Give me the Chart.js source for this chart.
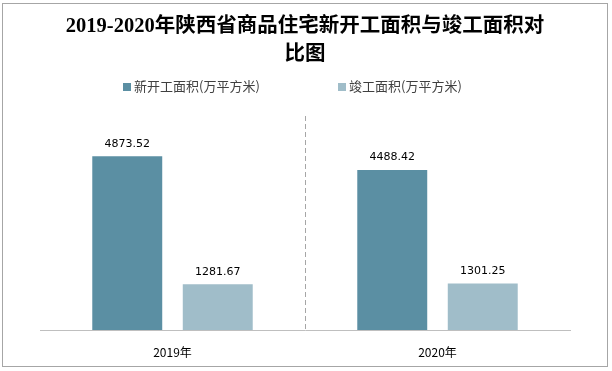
<!DOCTYPE html>
<html>
<head>
<meta charset="utf-8">
<script src="https://cdn.jsdelivr.net/npm/chart.js@4.4.0/dist/chart.umd.min.js"></script>
<style>
  html, body { margin: 0; padding: 0; background: #fff; }
  #wrap { position: relative; width: 612px; height: 371px; }
  #frame { position: absolute; left: 2px; top: 3px; width: 604px; height: 362px; border: 1px solid #a6a6a6; pointer-events: none; }
  #legend { position: absolute; left: 0; top: 77px; width: 612px; height: 18px; font: 13px "Noto Sans CJK SC", sans-serif; color: #404040; }
  .item { position: absolute; top: 0; white-space: nowrap; line-height: 18px; }
  .box { display: inline-block; width: 8px; height: 8px; margin-right: 3px; vertical-align: 0px; }
</style>
</head>
<body>
<div id="wrap">
  <canvas id="chart" width="612" height="371"></canvas>
  <div id="legend"></div>
  <div id="frame"></div>
</div>
<script>
// Dane
const categories = ["2019年", "2020年"];
const newStart = [4873.52, 4488.42];
const completed = [1281.67, 1301.25];
const seriesNames = ["新开工面积(万平方米)", "竣工面积(万平方米)"];
const colors = ["#5b8fa3", "#a0bdc9"];
const legendLeft = [123, 338];

// Etykiety nad słupkami
const valueLabels = {
  id: "valueLabels",
  afterDatasetsDraw(chart) {
    const ctx = chart.ctx;
    ctx.save();
    ctx.font = "11px 'DejaVu Sans', sans-serif";
    ctx.fillStyle = "#000";
    ctx.textAlign = "center";
    ctx.textBaseline = "bottom";
    chart.data.datasets.forEach((ds, i) => {
      chart.getDatasetMeta(i).data.forEach((bar, j) => {
        ctx.fillText(ds.data[j].toFixed(2), bar.x, bar.y - 7);
      });
    });
    ctx.restore();
  }
};

// Przerywana linia między kategoriami
const separator = {
  id: "separator",
  beforeDatasetsDraw(chart) {
    const x = chart.scales.x;
    const area = chart.chartArea;
    const mid = (x.getPixelForValue(0) + x.getPixelForValue(1)) / 2;
    const ctx = chart.ctx;
    ctx.save();
    ctx.strokeStyle = "#a6a6a6";
    ctx.lineWidth = 1;
    ctx.setLineDash([5, 3]);
    ctx.beginPath();
    ctx.moveTo(Math.round(mid) + 0.5, area.top);
    ctx.lineTo(Math.round(mid) + 0.5, area.bottom);
    ctx.stroke();
    ctx.restore();
  }
};

const chart = new Chart(document.getElementById("chart"), {
  type: "bar",
  data: {
    labels: categories,
    datasets: [
      { label: seriesNames[0], data: newStart, backgroundColor: colors[0], categoryPercentage: 0.683, barPercentage: 0.773 },
      { label: seriesNames[1], data: completed, backgroundColor: colors[1], categoryPercentage: 0.683, barPercentage: 0.773 }
    ]
  },
  options: {
    responsive: false,
    animation: false,
    layout: { padding: { top: 3, left: 40, right: 42, bottom: 11 } },
    plugins: {
      legend: { display: false },
      tooltip: { enabled: false },
      title: {
        display: true,
        text: ["2019-2020年陕西省商品住宅新开工面积与竣工面积对", "比图"],
        color: "#000",
        font: { family: "'Liberation Serif', 'Noto Sans CJK SC', serif", size: 20.5, weight: "bold", lineHeight: 1.366 },
        padding: { top: 10, bottom: 47 }
      }
    },
    scales: {
      x: {
        grid: { display: false, drawTicks: false },
        border: { color: "#bfbfbf", width: 1 },
        ticks: { color: "#000", padding: 15, font: { family: "'Noto Sans CJK SC', sans-serif", size: 12 } },
        afterFit(scale) { scale.height = 30; }
      },
      y: { display: false, min: 0, max: 6000 }
    }
  },
  plugins: [separator, valueLabels]
});

// Legenda
const legend = document.getElementById("legend");
chart.data.datasets.forEach((ds, i) => {
  const item = document.createElement("div");
  item.className = "item";
  item.style.left = legendLeft[i] + "px";
  item.innerHTML = '<span class="box" style="background:' + ds.backgroundColor + '"></span>' + ds.label;
  legend.appendChild(item);
});
</script>
</body>
</html>
